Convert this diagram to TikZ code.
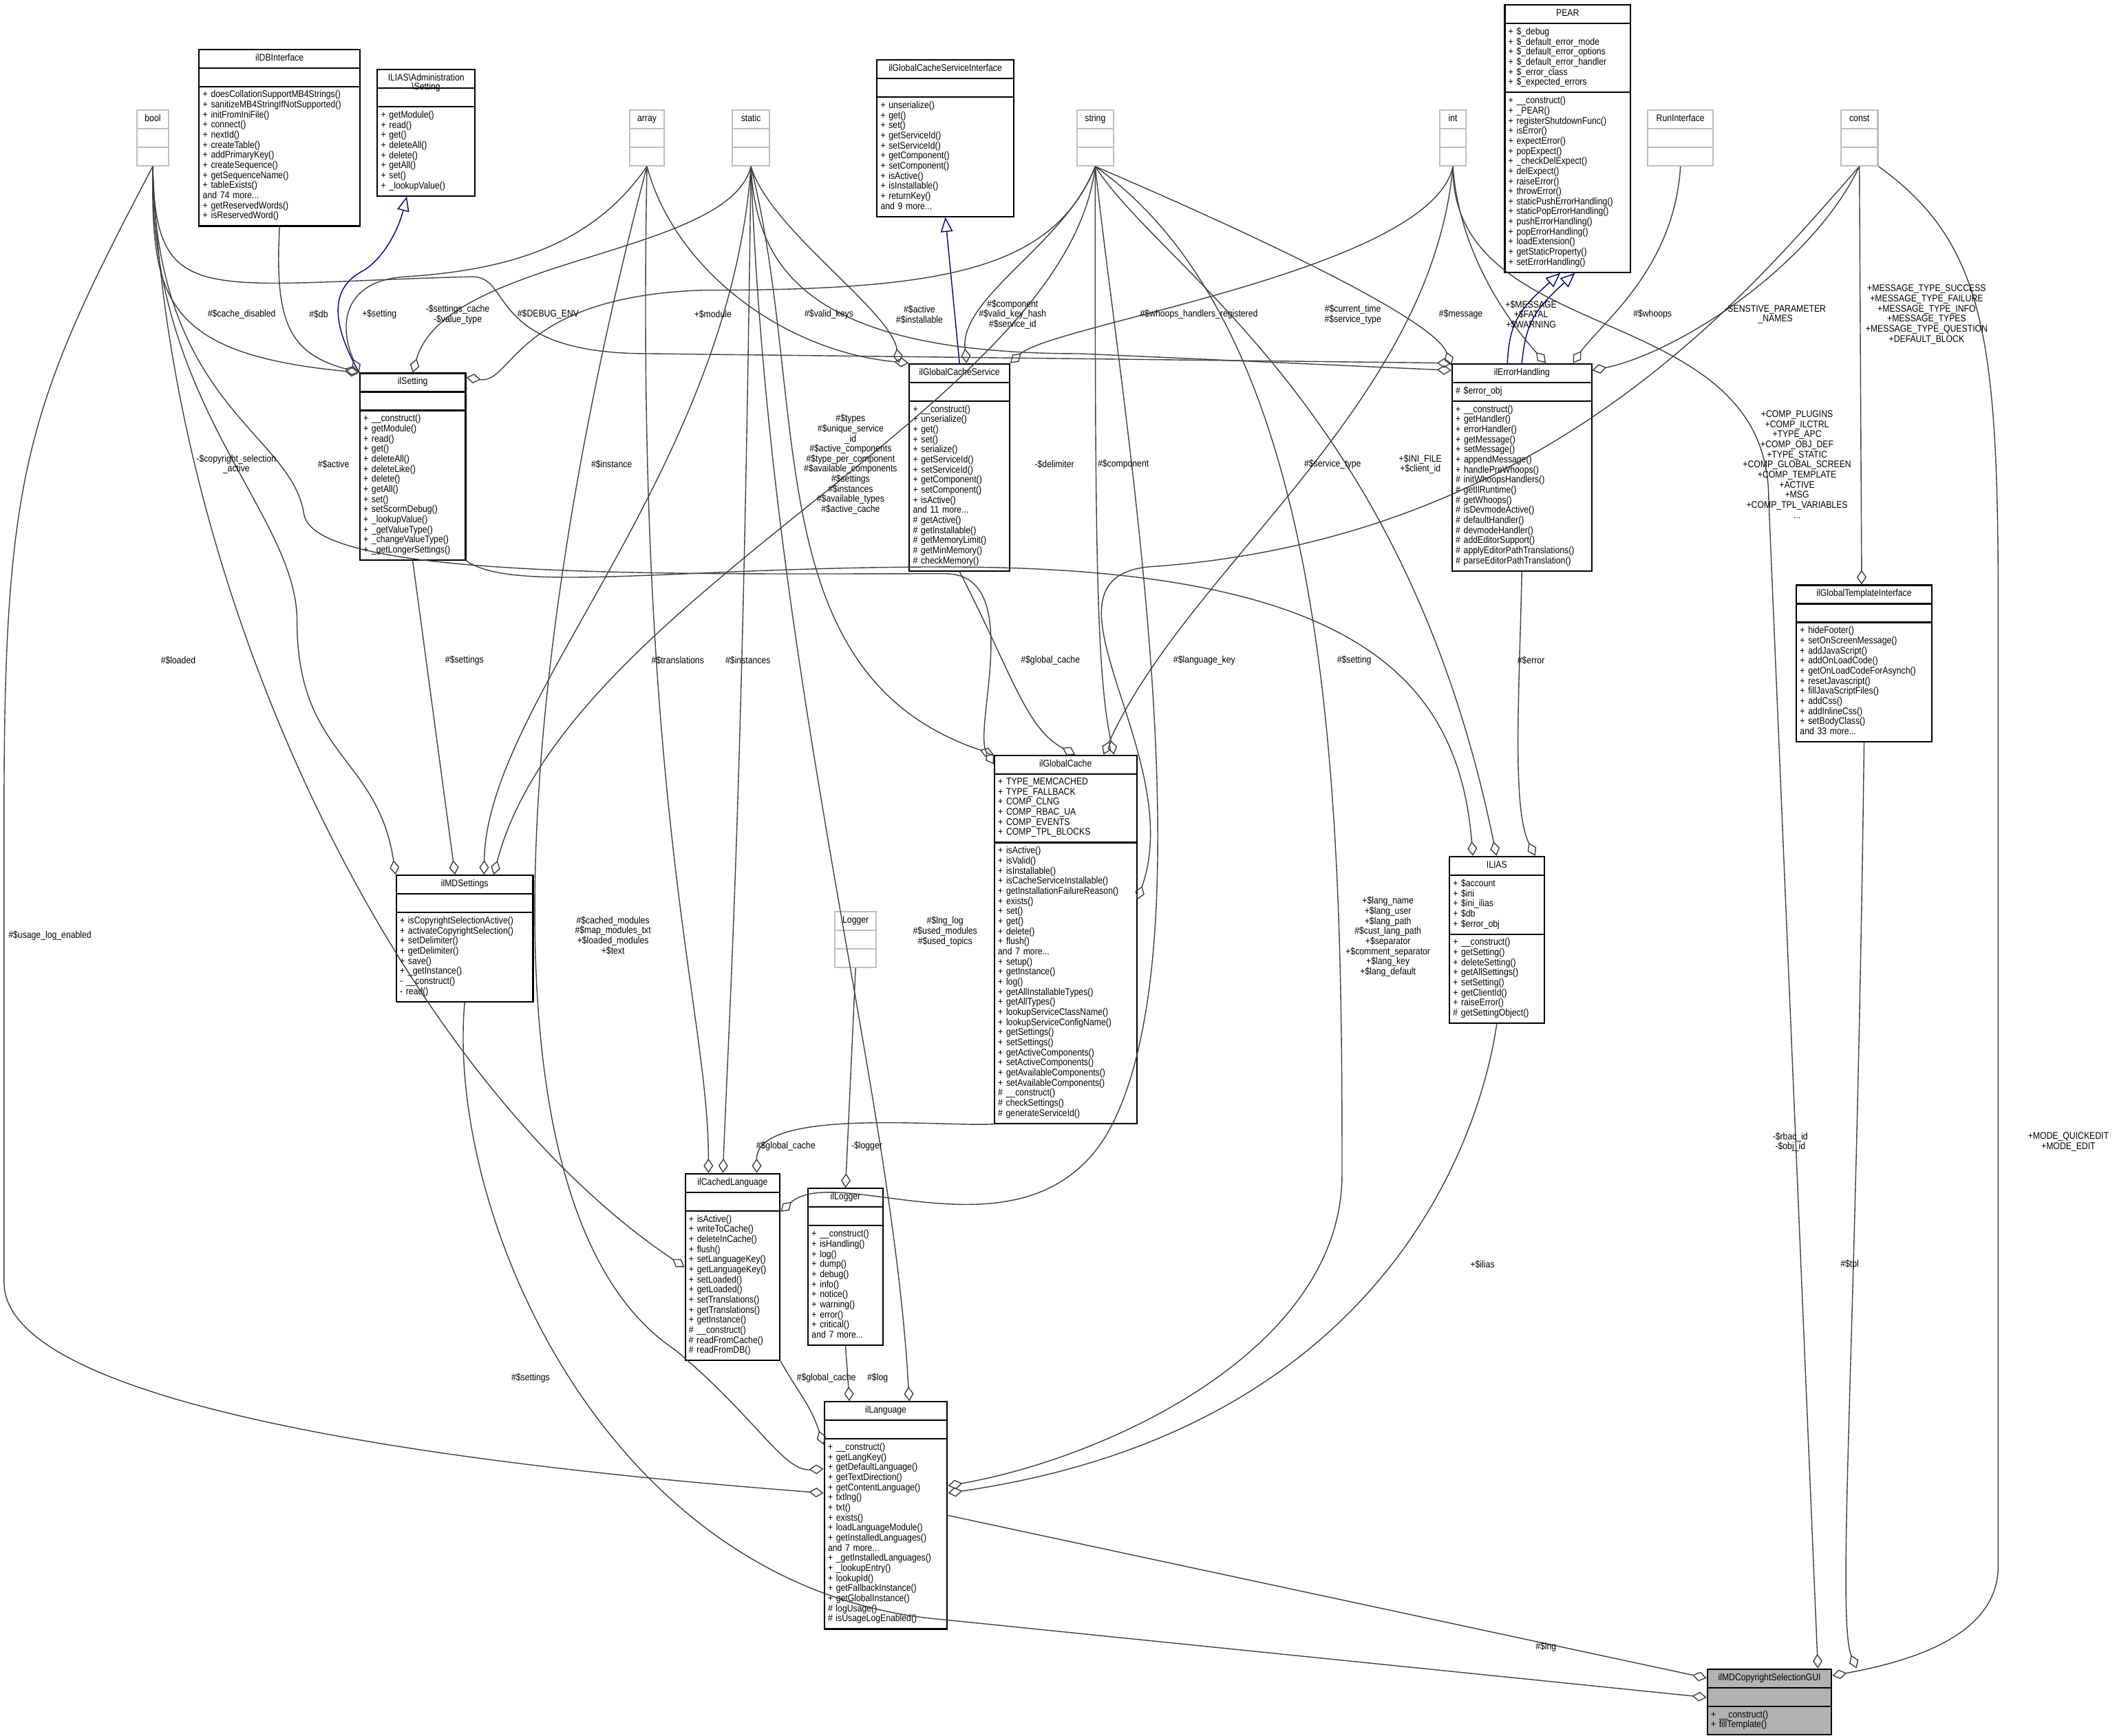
\documentclass[tikz,border=0pt]{standalone}
\usepackage{fontspec}
\setmainfont{Liberation Sans}[FakeStretch=0.87]
\usepackage{tikz}
\usetikzlibrary{shapes.multipart,arrows.meta}
\newcommand{\ctr}[1]{\makebox[\hsize]{#1}}
\newcommand{\umlclass}[7][]{\node[cls,text width=#4cm,#1] (#2) at (#3) {\ctr{#5}\strut\nodepart{two}#6\strut\nodepart{three}#7\strut};}
\newcommand{\umltype}[4]{\node[typ,text width=#3cm] (#1) at (#2) {\ctr{#4}\strut\nodepart{two}\strut\nodepart{three}\strut};}

\begin{document}
\begin{tikzpicture}[x=0.0196cm,y=-0.0196cm,
    every node/.style={font=\fontsize{4}{4.17}\selectfont},
    cls/.style={draw=black,semithick,fill=white,rectangle split,rectangle split parts=3,anchor=north west,align=left,inner xsep=1.5pt,inner ysep=1.45pt},
    typ/.style={cls,draw=black!25},
    rel/.style={draw=black!75,thin,-{Diamond[open,length=6pt,width=4pt]}},
    inh/.style={draw=blue!45!black,thin,-{Triangle[open,length=6pt,width=5pt]}},
    lbl/.style={align=center,inner sep=0pt}]
\useasboundingbox (0,0) rectangle (1568,1286);

% types and classes
\umltype{bool}{101,81}{0.35}{bool}
\umltype{array}{466,81}{0.39}{array}
\umltype{static}{542,81}{0.43}{static}
\umltype{string}{797,81}{0.43}{string}
\umltype{int}{1066,81}{0.27}{int}
\umltype{runif}{1220,81}{0.84}{RunInterface}
\umltype{const}{1363,81}{0.43}{const}
\umltype{logger}{618,675}{0.49}{Logger}
\umlclass{dbif}{147,36}{2.23}{ilDBInterface}{}{+ doesCollationSupportMB4Strings()\\+ sanitizeMB4StringIfNotSupported()\\+ initFromIniFile()\\+ connect()\\+ nextId()\\+ createTable()\\+ addPrimaryKey()\\+ createSequence()\\+ getSequenceName()\\+ tableExists()\\and 74 more...\\+ getReservedWords()\\+ isReservedWord()}
\umlclass{admset}{279,51}{1.31}{ILIAS\textbackslash Administration}{}{+ getModule()\\+ read()\\+ get()\\+ deleteAll()\\+ delete()\\+ getAll()\\+ set()\\+ \_lookupValue()}
\node[lbl,anchor=north] (admset2) at (315.5,61) {\textbackslash Setting};
\umlclass{gcsif}{649,44}{1.88}{ilGlobalCacheServiceInterface}{}{+ unserialize()\\+ get()\\+ set()\\+ getServiceId()\\+ setServiceId()\\+ getComponent()\\+ setComponent()\\+ isActive()\\+ isInstallable()\\+ returnKey()\\and 9 more...}
\umlclass{pear}{1114,3}{1.72}{PEAR}{+ \$\_debug\\+ \$\_default\_error\_mode\\+ \$\_default\_error\_options\\+ \$\_default\_error\_handler\\+ \$\_error\_class\\+ \$\_expected\_errors}{+ \_\_construct()\\+ \_PEAR()\\+ registerShutdownFunc()\\+ isError()\\+ expectError()\\+ popExpect()\\+ \_checkDelExpect()\\+ delExpect()\\+ raiseError()\\+ throwError()\\+ staticPushErrorHandling()\\+ staticPopErrorHandling()\\+ pushErrorHandling()\\+ popErrorHandling()\\+ loadExtension()\\+ getStaticProperty()\\+ setErrorHandling()}
\umlclass{setting}{266,276}{1.43}{ilSetting}{}{+ \_\_construct()\\+ getModule()\\+ read()\\+ get()\\+ deleteAll()\\+ deleteLike()\\+ delete()\\+ getAll()\\+ set()\\+ setScormDebug()\\+ \_lookupValue()\\+ \_getValueType()\\+ \_changeValueType()\\+ \_getLongerSettings()}
\umlclass{gcs}{673,269}{1.35}{ilGlobalCacheService}{}{+ \_\_construct()\\+ unserialize()\\+ get()\\+ set()\\+ serialize()\\+ getServiceId()\\+ setServiceId()\\+ getComponent()\\+ setComponent()\\+ isActive()\\and 11 more...\\\# getActive()\\\# getInstallable()\\\# getMemoryLimit()\\\# getMinMemory()\\\# checkMemory()}
\umlclass{errh}{1075,269}{1.92}{ilErrorHandling}{\# \$error\_obj}{+ \_\_construct()\\+ getHandler()\\+ errorHandler()\\+ getMessage()\\+ setMessage()\\+ appendMessage()\\+ handlePreWhoops()\\\# initWhoopsHandlers()\\\# getIlRuntime()\\\# getWhoops()\\\# isDevmodeActive()\\\# defaultHandler()\\\# devmodeHandler()\\\# addEditorSupport()\\\# applyEditorPathTranslations()\\\# parseEditorPathTranslation()}
\umlclass{tplif}{1330,433}{1.86}{ilGlobalTemplateInterface}{}{+ hideFooter()\\+ setOnScreenMessage()\\+ addJavaScript()\\+ addOnLoadCode()\\+ getOnLoadCodeForAsynch()\\+ resetJavascript()\\+ fillJavaScriptFiles()\\+ addCss()\\+ addInlineCss()\\+ setBodyClass()\\and 33 more...}
\umlclass{mdset}{293,648}{1.88}{ilMDSettings}{}{+ isCopyrightSelectionActive()\\+ activateCopyrightSelection()\\+ setDelimiter()\\+ getDelimiter()\\+ save()\\+ \_getInstance()\\- \_\_construct()\\- read()}
\umlclass{gcache}{736,559}{1.96}{ilGlobalCache}{+ TYPE\_MEMCACHED\\+ TYPE\_FALLBACK\\+ COMP\_CLNG\\+ COMP\_RBAC\_UA\\+ COMP\_EVENTS\\+ COMP\_TPL\_BLOCKS}{+ isActive()\\+ isValid()\\+ isInstallable()\\+ isCacheServiceInstallable()\\+ getInstallationFailureReason()\\+ exists()\\+ set()\\+ get()\\+ delete()\\+ flush()\\and 7 more...\\+ setup()\\+ getInstance()\\+ log()\\+ getAllInstallableTypes()\\+ getAllTypes()\\+ lookupServiceClassName()\\+ lookupServiceConfigName()\\+ getSettings()\\+ setSettings()\\+ getActiveComponents()\\+ setActiveComponents()\\+ getAvailableComponents()\\+ setAvailableComponents()\\\# \_\_construct()\\\# checkSettings()\\\# generateServiceId()}
\umlclass{ilias}{1073,634}{1.27}{ILIAS}{+ \$account\\+ \$ini\\+ \$ini\_ilias\\+ \$db\\+ \$error\_obj}{+ \_\_construct()\\+ getSetting()\\+ deleteSetting()\\+ getAllSettings()\\+ setSetting()\\+ getClientId()\\+ raiseError()\\\# getSettingObject()}
\umlclass{clang}{507,869}{1.27}{ilCachedLanguage}{}{+ isActive()\\+ writeToCache()\\+ deleteInCache()\\+ flush()\\+ setLanguageKey()\\+ getLanguageKey()\\+ setLoaded()\\+ getLoaded()\\+ setTranslations()\\+ getTranslations()\\+ getInstance()\\\# \_\_construct()\\\# readFromCache()\\\# readFromDB()}
\umlclass{illogger}{598,880}{0.98}{ilLogger}{}{+ \_\_construct()\\+ isHandling()\\+ log()\\+ dump()\\+ debug()\\+ info()\\+ notice()\\+ warning()\\+ error()\\+ critical()\\and 7 more...}
\umlclass{lang}{610,1038}{1.68}{ilLanguage}{}{+ \_\_construct()\\+ getLangKey()\\+ getDefaultLanguage()\\+ getTextDirection()\\+ getContentLanguage()\\+ txtlng()\\+ txt()\\+ exists()\\+ loadLanguageModule()\\+ getInstalledLanguages()\\and 7 more...\\+ \_getInstalledLanguages()\\+ \_lookupEntry()\\+ lookupId()\\+ getFallbackInstance()\\+ getGlobalInstance()\\\# logUsage()\\\# isUsageLogEnabled()}
\umlclass[fill=black!30]{gui}{1264,1236}{1.70}{ilMDCopyrightSelectionGUI}{}{+ \_\_construct()\\+ fillTemplate()}

% inheritance
\draw[inh] (setting.north west) .. controls (240,230) and (250,210) .. (270,200) .. controls (285,190) and (295,170) .. ([xshift=-8pt]admset.south);
\draw[inh] (gcs.north) -- (gcsif.south);
\draw[inh] ([xshift=-6pt]errh.north) .. controls (1118,240) and (1124,230) .. ([xshift=-3pt]pear.south);
\draw[inh] ([xshift=0pt]errh.north) .. controls (1130,240) and (1136,230) .. ([xshift=3pt]pear.south);

% members
\draw[rel] (bool.south) .. controls (112,220) and (120,262) .. (setting.north west);
\draw[rel] (dbif.south) .. controls (203,240) and (215,262) .. (setting.north west);
\draw[rel] (array.south) .. controls (440,180) and (380,200) .. (300,205) .. controls (255,208) and (250,240) .. (setting.north west);
\draw[rel] (static.south) .. controls (540,190) and (330,190) .. (setting.north);
\draw[rel] (string.south) .. controls (780,200) and (700,215) .. (520,215) .. controls (380,220) and (380,285) .. ([yshift=-2pt]setting.north east);
\draw[rel] (bool.south) .. controls (115,230) and (150,210) .. (350,205) .. controls (380,205) and (360,262) .. (480,262) -- (errh.north west);
\draw[rel] (array.south) .. controls (500,200) and (580,260) .. (gcs.north west);
\draw[rel] (static.south) .. controls (570,170) and (660,230) .. ([xshift=-4pt]gcs.north west);
\draw[rel] (string.south) .. controls (790,180) and (710,220) .. ([xshift=3pt]gcs.north);
\draw[rel] (static.south) .. controls (560,200) and (600,262) .. (800,262) -- ([yshift=-3pt]errh.north west);
\draw[rel] (int.south) .. controls (1060,200) and (780,240) .. (gcs.north east);
\draw[rel] (string.south) .. controls (850,140) and (1060,230) .. ([yshift=-1pt]errh.north west);
\draw[rel] (int.south) .. controls (1080,180) and (1110,230) .. ([xshift=39]errh.north west);
\draw[rel] (runif.south) .. controls (1240,200) and (1185,240) .. ([xshift=-8]errh.north east);
\draw[rel] (const.south) .. controls (1340,200) and (1240,262) .. ([yshift=-3pt]errh.north east);
\draw[rel] (const.south) -- ([xshift=-1]tplif.north);
\draw[rel] (const.south) .. controls (1300,210) and (1150,400) .. (850,420) .. controls (760,430) and (880,560) .. ([yshift=-60pt]gcache.north east);
\draw[rel] (int.south) .. controls (1075,260) and (1310,220) .. (1310,370) -- ([xshift=46]gui.north west);
\draw[rel] (const.south east) .. controls (1470,180) and (1480,250) .. (1480,450) -- (1480,1160) .. controls (1480,1210) and (1420,1230) .. ([yshift=-3pt]gui.north east);
\draw[rel] (static.south) .. controls (600,300) and (560,500) .. (gcache.north west);
\draw[rel] (bool.south) .. controls (110,300) and (220,380) .. (220,460) .. controls (220,560) and (280,560) .. (mdset.north west);
\draw[rel] (bool.south) .. controls (115,300) and (215,320) .. (225,380) .. controls (230,430) and (500,425) .. (700,425) .. controls (760,425) and (720,540) .. ([yshift=-4pt]gcache.north west);
\draw[rel] (static.south) .. controls (540,350) and (360,520) .. ([xshift=8]mdset.north);
\draw[rel] (string.south) .. controls (790,300) and (420,440) .. ([xshift=12]mdset.north);
\draw[rel] (int.south) .. controls (1060,300) and (880,420) .. ([xshift=-14]gcache.north east);
\draw[rel] (string.south) .. controls (860,200) and (1040,300) .. ([xshift=-20]ilias.north east);
\draw[rel] (setting.south) -- ([xshift=-4]mdset.north);
\draw[rel] (array.south) .. controls (470,600) and (525,750) .. ([xshift=-10]clang.north);
\draw[rel] (static.south) .. controls (550,600) and (540,750) .. ([xshift=-4]clang.north);
\draw[rel] (gcs.south) .. controls (750,500) and (760,540) .. ([xshift=4]gcache.north);
\draw[rel] (string.south) .. controls (811,400) and (812,500) .. ([xshift=20]gcache.north);
\draw[rel] (string.south) .. controls (830,300) and (900,700) .. (820,840) .. controls (760,940) and (620,860) .. ([yshift=-16]clang.north east);
\draw[rel] (setting.south east) .. controls (380,440) and (500,420) .. (700,420) .. controls (1000,420) and (1080,500) .. ([xshift=10]ilias.north west);
\draw[rel] (errh.south) .. controls (1125,520) and (1120,600) .. ([xshift=-4]ilias.north east);
\draw[rel] (bool.south) .. controls (125,450) and (300,800) .. (clang.west);
\draw[rel] (array.south) .. controls (380,500) and (350,900) .. (500,1000) .. controls (560,1050) and (580,1090) .. ([yshift=-28]lang.north west);
\draw[rel] (static.south) .. controls (570,500) and (660,800) .. ([xshift=-16]lang.north east);
\draw[rel] (string.south) .. controls (990,250) and (994,600) .. (994,870) .. controls (994,1000) and (820,1080) .. ([yshift=-35]lang.north east);
\draw[rel] (bool.south) .. controls (20,300) and (3,350) .. (3,600) -- (3,950) .. controls (3,1050) and (400,1090) .. ([yshift=-38]lang.north west);
\draw[rel] (gcache.south west) .. controls (700,835) and (560,820) .. ([xshift=10]clang.north);
\draw[rel] (logger.south) -- (illogger.north);
\draw[rel] (ilias.south) .. controls (1095,850) and (1020,1060) .. ([yshift=-38]lang.north east);
\draw[rel] (tplif.south) .. controls (1375,1000) and (1360,1200) .. ([xshift=62]gui.north west);
\draw[rel] (mdset.south) .. controls (330,900) and (450,1180) .. (700,1200) -- ([yshift=-12pt]gui.north west);
\draw[rel] (clang.south east) .. controls (590,1030) and (600,1040) .. ([yshift=-18]lang.north west);
\draw[rel] (illogger.south) -- ([xshift=-15]lang.north);
\draw[rel] (lang.east) -- ([yshift=-4pt]gui.north west);

% labels
\node[lbl] (l1) at (179,233) {\#\$cache\_disabled};
\node[lbl] (l2) at (236,233) {\#\$db};
\node[lbl] (l3) at (281,233) {+\$setting};
\node[lbl] (l4) at (339,233) {-\$settings\_cache\\-\$value\_type};
\node[lbl] (l5) at (406,233) {\#\$DEBUG\_ENV};
\node[lbl] (l6) at (528,233) {+\$module};
\node[lbl] (l7) at (614,233) {\#\$valid\_keys};
\node[lbl] (l8) at (681,233) {\#\$active\\\#\$installable};
\node[lbl] (l9) at (750,233) {\#\$component\\\#\$valid\_key\_hash\\\#\$service\_id};
\node[lbl] (l10) at (888,233) {\#\$whoops\_handlers\_registered};
\node[lbl] (l11) at (1002,233) {\#\$current\_time\\\#\$service\_type};
\node[lbl] (l12) at (1082,233) {\#\$message};
\node[lbl] (l13) at (1134,233) {+\$MESSAGE\\+\$FATAL\\+\$WARNING};
\node[lbl] (l14) at (1224,233) {\#\$whoops};
\node[lbl] (l15) at (1315,233) {-SENSTIVE\_PARAMETER\\\_NAMES};
\node[lbl] (l16) at (1427,233) {+MESSAGE\_TYPE\_SUCCESS\\+MESSAGE\_TYPE\_FAILURE\\+MESSAGE\_TYPE\_INFO\\+MESSAGE\_TYPES\\+MESSAGE\_TYPE\_QUESTION\\+DEFAULT\_BLOCK};
\node[lbl] (l17) at (1331,344) {+COMP\_PLUGINS\\+COMP\_ILCTRL\\+TYPE\_APC\\+COMP\_OBJ\_DEF\\+TYPE\_STATIC\\+COMP\_GLOBAL\_SCREEN\\+COMP\_TEMPLATE\\+ACTIVE\\+MSG\\+COMP\_TPL\_VARIABLES\\...};
\node[lbl] (l18) at (630,344) {\#\$types\\\#\$unique\_service\\\_id\\\#\$active\_components\\\#\$type\_per\_component\\\#\$available\_components\\\#\$settings\\\#\$instances\\\#\$available\_types\\\#\$active\_cache};
\node[lbl] (l19) at (175,344) {-\$copyright\_selection\\\_active};
\node[lbl] (l20) at (247,344) {\#\$active};
\node[lbl] (l21) at (453,344) {\#\$instance};
\node[lbl] (l22) at (781,344) {-\$delimiter};
\node[lbl] (l23) at (987,344) {\#\$service\_type};
\node[lbl] (l24) at (1052,344) {+\$INI\_FILE\\+\$client\_id};
\node[lbl] (l25) at (344,489) {\#\$settings};
\node[lbl] (l26) at (502,489) {\#\$translations};
\node[lbl] (l27) at (554,489) {\#\$instances};
\node[lbl] (l28) at (778,489) {\#\$global\_cache};
\node[lbl] (l29) at (832,344) {\#\$component};
\node[lbl] (l30) at (892,489) {\#\$language\_key};
\node[lbl] (l31) at (1003,489) {\#\$setting};
\node[lbl] (l32) at (1134,489) {\#\$error};
\node[lbl] (l33) at (132,489) {\#\$loaded};
\node[lbl] (l34) at (454,693) {\#\$cached\_modules\\\#\$map\_modules\_txt\\+\$loaded\_modules\\+\$text};
\node[lbl] (l35) at (700,690) {\#\$lng\_log\\\#\$used\_modules\\\#\$used\_topics};
\node[lbl] (l36) at (1028,694) {+\$lang\_name\\+\$lang\_user\\+\$lang\_path\\\#\$cust\_lang\_path\\+\$separator\\+\$comment\_separator\\+\$lang\_key\\+\$lang\_default};
\node[lbl] (l37) at (37,693) {\#\$usage\_log\_enabled};
\node[lbl] (l38) at (582,849) {\#\$global\_cache};
\node[lbl] (l39) at (642,849) {-\$logger};
\node[lbl] (l40) at (1098,937) {+\$ilias};
\node[lbl] (l41) at (1370,937) {\#\$tpl};
\node[lbl] (l42) at (1326,846) {-\$rbac\_id\\-\$obj\_id};
\node[lbl] (l43) at (1532,846) {+MODE\_QUICKEDIT\\+MODE\_EDIT};
\node[lbl] (l44) at (393,1021) {\#\$settings};
\node[lbl] (l45) at (612,1021) {\#\$global\_cache};
\node[lbl] (l46) at (650,1021) {\#\$log};
\node[lbl] (l47) at (1145,1220) {\#\$lng};
\end{tikzpicture}
\end{document}
